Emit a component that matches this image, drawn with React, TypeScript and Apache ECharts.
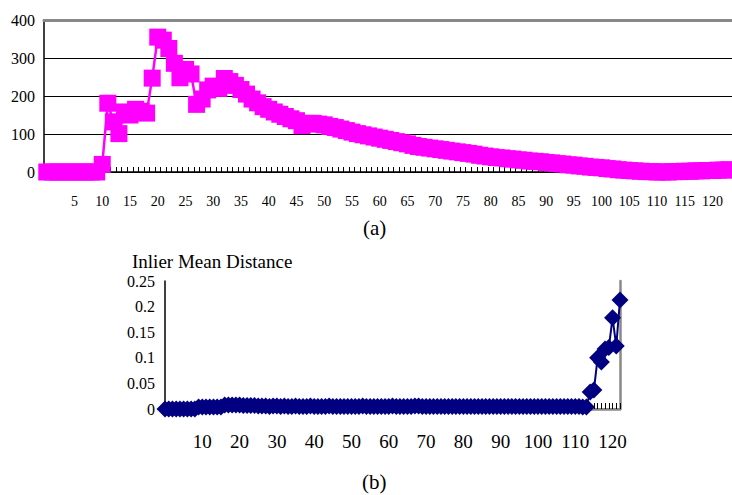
import React, { useEffect, useRef } from "react";
import * as echarts from "echarts";

const FONT = "Liberation Serif";

// Chart (a): categories 0..123
const topCategories: string[] = Array.from({ length: 124 }, (_, i) => String(i));
const topValues: number[] = [
  0, 0, 0, 0, 0, 0, 0, 0, 0, 0,
  20, 181, 132, 101, 158, 150, 165, 160, 155, 247,
  355, 347, 325, 286, 248, 270, 258, 178, 192, 216,
  226, 220, 246, 238, 228, 217, 205, 192, 182, 172,
  165, 158, 152, 146, 140, 135, 122, 128, 128, 126,
  124, 120, 117, 113, 109, 105, 101, 98, 95, 92,
  89, 86, 83, 80, 77, 74, 70, 67, 65, 63,
  61, 59, 57, 55, 53, 51, 49, 47, 44, 42,
  40, 38, 37, 35, 34, 32, 31, 29, 28, 27,
  25, 24, 22, 21, 19, 18, 16, 15, 13, 12,
  11, 9, 8, 6, 5, 4, 3, 2, 1, 1,
  0, 0, 0, 1, 1, 2, 2, 3, 3, 4,
  4, 5, 5, 6,
];

// Chart (b): categories 0..122
const bottomCategories: string[] = Array.from({ length: 123 }, (_, i) => String(i));
const bottomValues: number[] = [
  0, 0, 0, 0, 0, 0, 0, 0, 0, 0.004,
  0.004, 0.004, 0.004, 0.004, 0.004, 0.004, 0.008, 0.008, 0.008, 0.008,
  0.008, 0.007, 0.007, 0.007, 0.007, 0.006, 0.006, 0.006, 0.005, 0.006,
  0.006, 0.005, 0.006, 0.005, 0.005, 0.006, 0.005, 0.005, 0.005, 0.006,
  0.005, 0.005, 0.005, 0.005, 0.006, 0.005, 0.005, 0.005, 0.005, 0.005,
  0.005, 0.005, 0.005, 0.006, 0.005, 0.005, 0.005, 0.005, 0.005, 0.005,
  0.005, 0.006, 0.005, 0.005, 0.005, 0.005, 0.005, 0.006, 0.006, 0.005,
  0.005, 0.005, 0.005, 0.005, 0.005, 0.005, 0.005, 0.005, 0.005, 0.005,
  0.005, 0.005, 0.005, 0.005, 0.005, 0.005, 0.005, 0.005, 0.005, 0.005,
  0.005, 0.005, 0.005, 0.005, 0.005, 0.005, 0.005, 0.005, 0.005, 0.005,
  0.005, 0.005, 0.005, 0.005, 0.005, 0.005, 0.005, 0.005, 0.005, 0.005,
  0.005, 0.005, 0.004, 0.004, 0.033, 0.037, 0.1, 0.092, 0.117, 0.12,
  0.178, 0.123, 0.213,
];

const topYTicks = { min: 0, max: 400, interval: 100 };
const bottomYTicks = { min: 0, max: 0.25, interval: 0.05 };

export default function App() {
  const ref = useRef<HTMLDivElement>(null);
  useEffect(() => {
    if (!ref.current) return;
    const chart = echarts.init(ref.current, undefined, { renderer: "svg" });
    chart.setOption({
      animation: false,
      backgroundColor: "#fff",
      textStyle: { fontFamily: FONT, color: "#000" },
      grid: [
        { left: 44, top: 20, width: 690, height: 152 },
        { left: 165, top: 281, width: 455, height: 128 },
      ],
      xAxis: [
        {
          gridIndex: 0,
          type: "category",
          data: topCategories,
          boundaryGap: true,
          axisLine: { lineStyle: { color: "#000", width: 1.5 } },
          axisTick: { show: true, inside: true, length: 5, interval: 0, lineStyle: { color: "#000" } },
          axisLabel: {
            interval: (i: number, v: string) => Number(v) % 5 === 0 && Number(v) > 0,
            fontFamily: FONT,
            fontSize: 14,
            color: "#000",
            margin: 22,
          },
          splitLine: { show: false },
        },
        {
          gridIndex: 0,
          type: "category",
          position: "top",
          data: topCategories,
          axisLine: { lineStyle: { color: "#888", width: 3 } },
          axisTick: { show: false },
          axisLabel: { show: false },
        },
        {
          gridIndex: 1,
          type: "category",
          data: bottomCategories,
          boundaryGap: false,
          axisLine: { lineStyle: { color: "#555", width: 1.5 } },
          axisTick: { show: true, inside: true, length: 6, interval: 0, lineStyle: { color: "#000" } },
          axisLabel: {
            interval: (i: number, v: string) => Number(v) % 10 === 0 && Number(v) > 0,
            fontFamily: FONT,
            fontSize: 19,
            color: "#000",
            margin: 23,
          },
          splitLine: { show: false },
        },
        {
          gridIndex: 1,
          type: "category",
          position: "top",
          data: bottomCategories,
          boundaryGap: false,
          axisLine: { lineStyle: { color: "#888", width: 2.5 } },
          axisTick: { show: false },
          axisLabel: { show: false },
        },
      ],
      yAxis: [
        {
          gridIndex: 0,
          type: "value",
          ...topYTicks,
          axisLine: { show: true, lineStyle: { color: "#000", width: 1.5 } },
          axisTick: { show: false },
          axisLabel: { fontFamily: FONT, fontSize: 16, color: "#000", margin: 9 },
          splitLine: { show: true, lineStyle: { color: "#000", width: 1 } },
        },
        {
          gridIndex: 1,
          type: "value",
          ...bottomYTicks,
          axisLine: { show: true, lineStyle: { color: "#000", width: 1.5 } },
          axisTick: { show: false },
          axisLabel: { fontFamily: FONT, fontSize: 16, color: "#000", margin: 10 },
          splitLine: { show: false },
        },
        {
          gridIndex: 1,
          type: "value",
          position: "right",
          ...bottomYTicks,
          axisLine: { show: true, lineStyle: { color: "#888", width: 2.5 } },
          axisTick: { show: false },
          axisLabel: { show: false },
          splitLine: { show: false },
        },
      ],
      series: [
        {
          type: "line",
          xAxisIndex: 0,
          yAxisIndex: 0,
          data: topValues,
          symbol: "rect",
          symbolSize: 17,
          showAllSymbol: true,
          itemStyle: { color: "#FF00FF" },
          lineStyle: { color: "#FF00FF", width: 2.5 },
          clip: false,
          z: 5,
        },
        {
          type: "line",
          xAxisIndex: 2,
          yAxisIndex: 1,
          data: bottomValues,
          symbol: "diamond",
          symbolSize: 17,
          showAllSymbol: true,
          itemStyle: { color: "#000080" },
          lineStyle: { color: "#000080", width: 2 },
          clip: false,
          z: 5,
        },
      ],
      graphic: [
        {
          type: "text",
          left: 363,
          top: 217,
          style: { text: "(a)", fontFamily: FONT, fontSize: 21, fill: "#000" },
        },
        {
          type: "text",
          left: 132,
          top: 252,
          style: { text: "Inlier Mean Distance", fontFamily: FONT, fontSize: 19, fill: "#000" },
        },
        {
          type: "text",
          left: 362,
          top: 471,
          style: { text: "(b)", fontFamily: FONT, fontSize: 21, fill: "#000" },
        },
      ],
    });
    return () => chart.dispose();
  }, []);
  return (
    <div
      ref={ref}
      style={{ position: "absolute", left: 0, top: 0, width: 732, height: 495 }}
    />
  );
}
